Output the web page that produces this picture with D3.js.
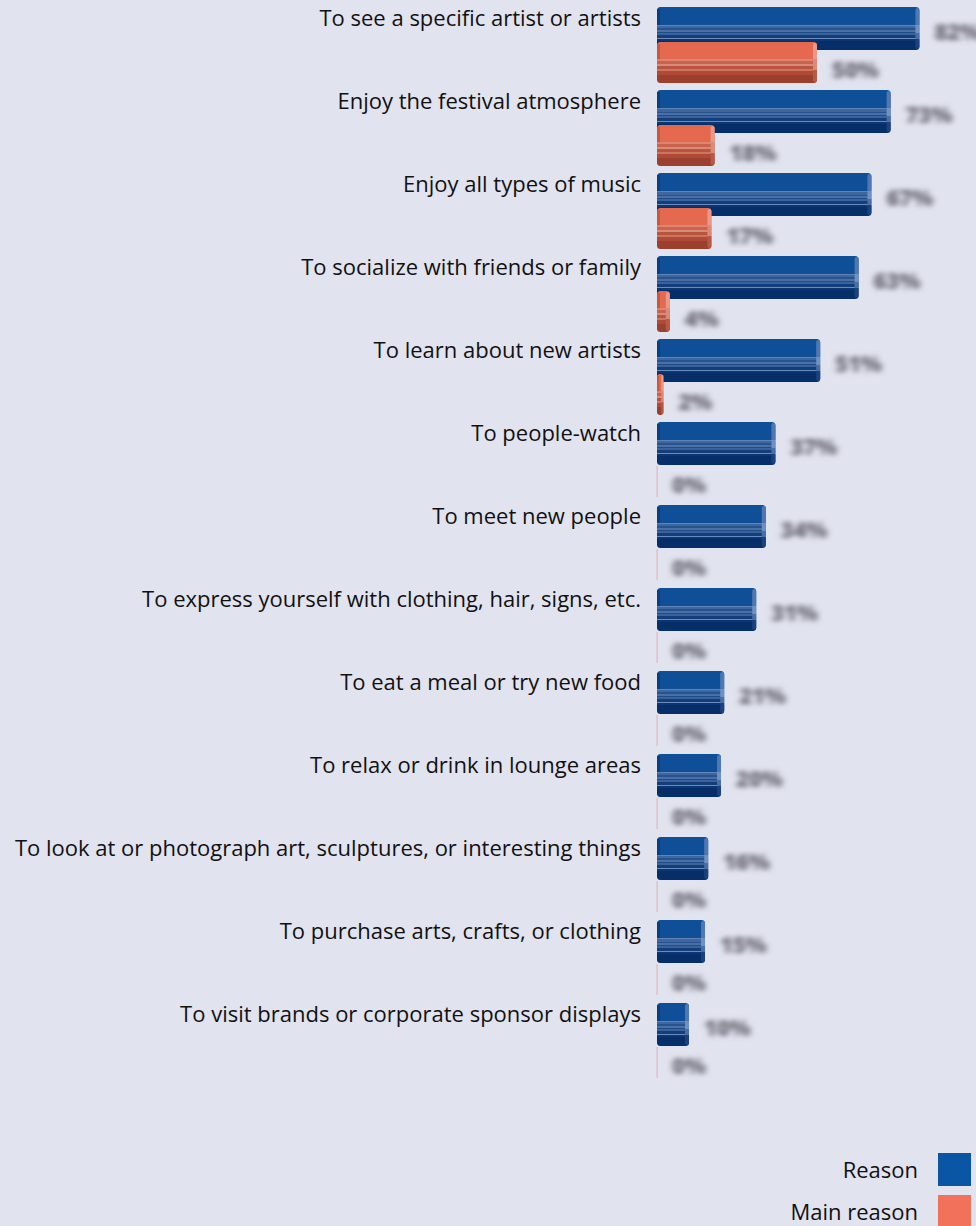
<!DOCTYPE html>
<html>
<head>
<meta charset="utf-8">
<script src="https://cdn.jsdelivr.net/npm/d3@7"></script>
<style>
  html, body { margin: 0; padding: 0; background: #e1e3ef; }
  svg { display: block; }
</style>
</head>
<body>
<script>
// Reasons for attending a music festival (share of respondents, %)
const categories = [
  "To see a specific artist or artists",
  "Enjoy the festival atmosphere",
  "Enjoy all types of music",
  "To socialize with friends or family",
  "To learn about new artists",
  "To people-watch",
  "To meet new people",
  "To express yourself with clothing, hair, signs, etc.",
  "To eat a meal or try new food",
  "To relax or drink in lounge areas",
  "To look at or photograph art, sculptures, or interesting things",
  "To purchase arts, crafts, or clothing",
  "To visit brands or corporate sponsor displays"
];
const reasonValues     = [82, 73, 67, 63, 51, 37, 34, 31, 21, 20, 16, 15, 10];
const mainReasonValues = [50, 18, 17, 4, 2, 0, 0, 0, 0, 0, 0, 0, 0];
const seriesNames = ["Reason", "Main reason"];

const W = 976, H = 1226;
const FONT = "'Open Sans', 'Noto Sans', sans-serif";

const svg = d3.select("body").append("svg")
  .attr("width", W).attr("height", H);

svg.append("rect").attr("width", W).attr("height", H).attr("fill", "#e1e3ef");

const x = d3.scaleLinear().domain([0, 100]).range([657, 977]);
const y = d3.scaleBand().domain(categories).range([7, 7 + 83 * categories.length]).paddingInner(0);

// Bar geometry inside each row band
const BLUE_OFF = 0, BLUE_H = 43;
const ORANGE_OFF = 35, ORANGE_H = 41;

const defs = svg.append("defs");

// Striped "bevelled" face gradients
function stripeGradient(id, stops) {
  const g = defs.append("linearGradient").attr("id", id)
    .attr("x1", 0).attr("y1", 0).attr("x2", 0).attr("y2", 1);
  stops.forEach(([a, b, c]) => {
    g.append("stop").attr("offset", a).attr("stop-color", c);
    g.append("stop").attr("offset", b).attr("stop-color", c);
  });
}
stripeGradient("blueFace", [
  [0.00, 0.42, "#0f4f98"],
  [0.42, 0.45, "#6184b8"],
  [0.45, 0.50, "#3e679f"],
  [0.50, 0.53, "#27548f"],
  [0.53, 0.57, "#4a70a6"],
  [0.57, 0.61, "#1f4d88"],
  [0.61, 0.65, "#3a629c"],
  [0.65, 0.72, "#143e79"],
  [0.72, 0.75, "#6a8cbd"],
  [0.75, 0.78, "#0d3670"],
  [0.78, 1.00, "#062f69"]
]);
stripeGradient("blueEnd", [
  [0.00, 0.42, "#4f78b0"],
  [0.42, 0.60, "#6f90c0"],
  [0.60, 0.75, "#4a6fa5"],
  [0.75, 1.00, "#1b427c"]
]);
stripeGradient("orangeFace", [
  [0.00, 0.42, "#e4694f"],
  [0.42, 0.46, "#dc8672"],
  [0.46, 0.54, "#c8634d"],
  [0.54, 0.58, "#d98a78"],
  [0.58, 0.66, "#b9553f"],
  [0.66, 0.70, "#cc7560"],
  [0.70, 0.80, "#ae4a36"],
  [0.80, 1.00, "#9b3f2e"]
]);
stripeGradient("orangeEnd", [
  [0.00, 0.42, "#e8998a"],
  [0.42, 0.70, "#d98a78"],
  [0.70, 1.00, "#b45a46"]
]);

const blur = defs.append("filter").attr("id", "soft")
  .attr("x", "-30%").attr("y", "-80%").attr("width", "160%").attr("height", "260%");
blur.append("feGaussianBlur").attr("stdDeviation", "3.2 2.6");

const palettes = {
  blue:   { face: "url(#blueFace)", end: "url(#blueEnd)", edge: "#0a3a76", zero: "#e2b7c0" },
  orange: { face: "url(#orangeFace)", end: "url(#orangeEnd)", edge: "#c0533d", zero: "#e2b7c0" }
};

function drawBar(g, value, top, h, pal) {
  const x0 = x(0), x1 = x(value), w = x1 - x0;
  if (w <= 0) {
    g.append("rect").attr("x", x0 - 0.5).attr("y", top + 9).attr("width", 1.2)
      .attr("height", h - 10).attr("fill", pal.zero);
    return;
  }
  const r = Math.min(3.5, w / 2);
  g.append("rect").attr("x", x0).attr("y", top).attr("width", w).attr("height", h)
    .attr("rx", r).attr("ry", r).attr("fill", pal.face);
  const endW = Math.min(4, w / 3);
  g.append("rect").attr("x", x1 - endW).attr("y", top + 1).attr("width", endW)
    .attr("height", h - 2).attr("rx", Math.min(2, endW / 2)).attr("fill", pal.end);
  const edgeW = Math.min(3, w / 3);
  g.append("rect").attr("x", x0).attr("y", top + 2).attr("width", edgeW)
    .attr("height", h * 0.42 - 2).attr("fill", pal.edge).attr("opacity", 0.8);
}

const rows = svg.append("g").selectAll("g.row")
  .data(categories.map((c, i) => ({ c, r: reasonValues[i], m: mainReasonValues[i] })))
  .join("g").attr("class", "row");

rows.each(function (d) {
  const g = d3.select(this);
  const top = y(d.c);
  drawBar(g, d.r, top + BLUE_OFF, BLUE_H, palettes.blue);
  drawBar(g, d.m, top + ORANGE_OFF, ORANGE_H, palettes.orange);
});

// Category labels
rows.append("text")
  .attr("x", 641).attr("y", d => y(d.c) + 19)
  .attr("text-anchor", "end")
  .attr("font-family", FONT).attr("font-size", 22).attr("fill", "#111")
  .text(d => d.c);

// Value labels (soft grey)
rows.append("text")
  .attr("x", d => x(d.r) + 15).attr("y", d => y(d.c) + BLUE_OFF + 33)
  .attr("font-family", FONT).attr("font-size", 22).attr("font-weight", 800)
  .attr("fill", "#6c6c76").attr("filter", "url(#soft)")
  .text(d => d.r + "%");
rows.append("text")
  .attr("x", d => x(d.m) + 15).attr("y", d => y(d.c) + ORANGE_OFF + 36)
  .attr("font-family", FONT).attr("font-size", 22).attr("font-weight", 800)
  .attr("fill", "#6c6c76").attr("filter", "url(#soft)")
  .text(d => d.m + "%");

// Legend
const legendColors = ["#0a56a5", "#f2715a"];
const legend = svg.append("g").selectAll("g")
  .data(seriesNames).join("g")
  .attr("transform", (d, i) => `translate(0, ${1153 + i * 42})`);
legend.append("rect").attr("x", 938).attr("y", 0).attr("width", 33).attr("height", 33)
  .attr("fill", (d, i) => legendColors[i]);
legend.append("text").attr("x", 918).attr("y", 25)
  .attr("text-anchor", "end")
  .attr("font-family", FONT).attr("font-size", 22).attr("fill", "#111")
  .text(d => d);
</script>
</body>
</html>
